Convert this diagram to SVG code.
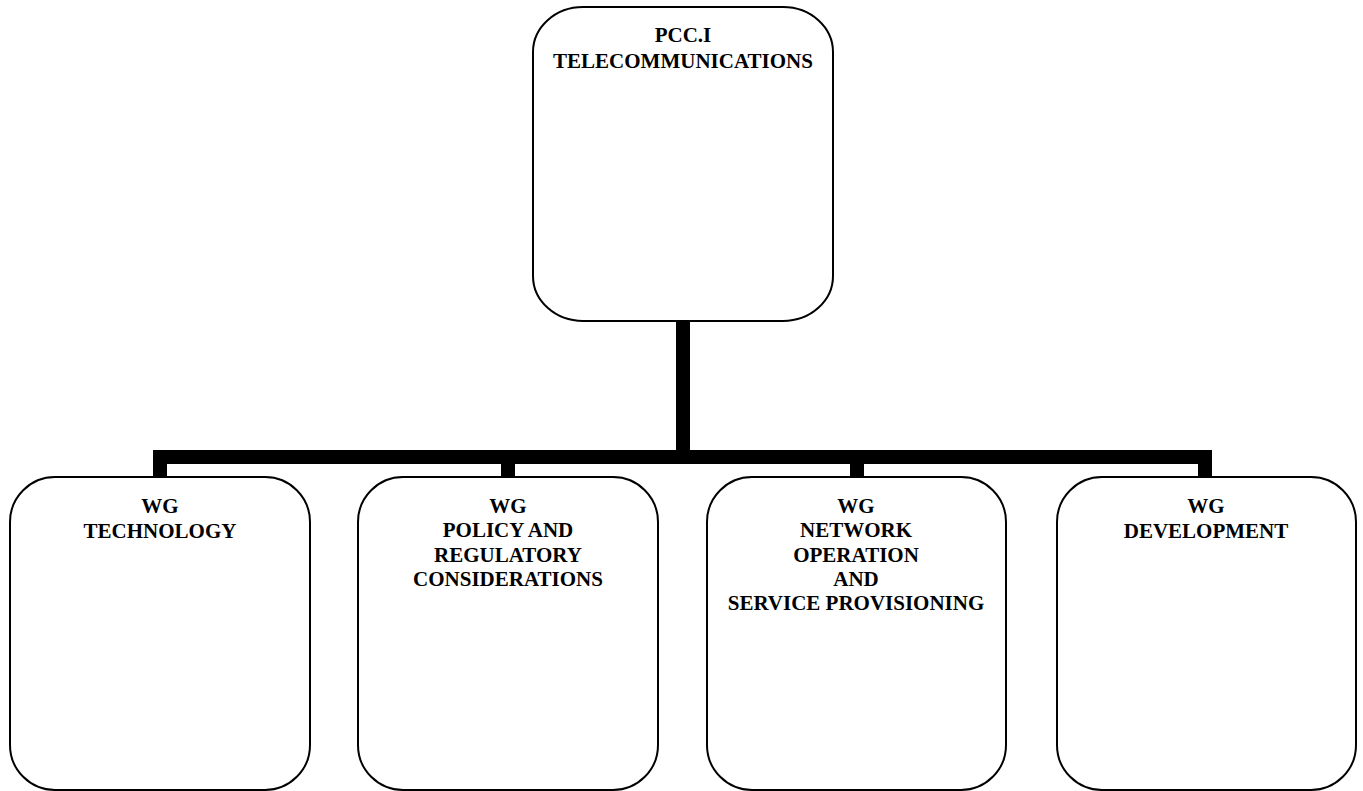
<svg xmlns="http://www.w3.org/2000/svg" width="1363" height="791" viewBox="0 0 1363 791">
<style>
.box{fill:#fff;stroke:#000;stroke-width:2}
.lbl{font-family:"Liberation Serif","Times New Roman",serif;font-weight:bold;font-size:21px;fill:#000;text-anchor:middle}
.conn{fill:none;stroke:#000;stroke-width:14;stroke-linejoin:miter;stroke-linecap:butt}
</style>
<rect width="1363" height="791" fill="#fff"/>
<g id="connectors">
<path class="conn" d="M683 321 V457"/>
<path class="conn" d="M160 478 V457 H1205 V478"/>
<path class="conn" d="M508 457 V478"/>
<path class="conn" d="M857 457 V478"/>
</g>
<g id="node-pcc">
<rect class="box" x="533" y="7" width="300" height="314" rx="50" ry="45"/>
<text class="lbl" x="683" y="42">PCC.I</text>
<text class="lbl" x="683" y="68">TELECOMMUNICATIONS</text>
</g>
<g id="node-technology">
<rect class="box" x="10" y="477" width="300" height="313" rx="45" ry="45"/>
<text class="lbl" x="160" y="513">WG</text>
<text class="lbl" x="160" y="538">TECHNOLOGY</text>
</g>
<g id="node-policy">
<rect class="box" x="358" y="477" width="300" height="313" rx="45" ry="45"/>
<text class="lbl" x="508" y="513">WG</text>
<text class="lbl" x="508" y="537">POLICY AND</text>
<text class="lbl" x="508" y="562">REGULATORY</text>
<text class="lbl" x="508" y="586">CONSIDERATIONS</text>
</g>
<g id="node-network">
<rect class="box" x="707" y="477" width="299" height="313" rx="45" ry="45"/>
<text class="lbl" x="856" y="513">WG</text>
<text class="lbl" x="856" y="537">NETWORK</text>
<text class="lbl" x="856" y="562">OPERATION</text>
<text class="lbl" x="856" y="586">AND</text>
<text class="lbl" x="856" y="610">SERVICE PROVISIONING</text>
</g>
<g id="node-development">
<rect class="box" x="1057" y="477" width="299" height="313" rx="45" ry="45"/>
<text class="lbl" x="1206" y="513">WG</text>
<text class="lbl" x="1206" y="538">DEVELOPMENT</text>
</g>
</svg>
